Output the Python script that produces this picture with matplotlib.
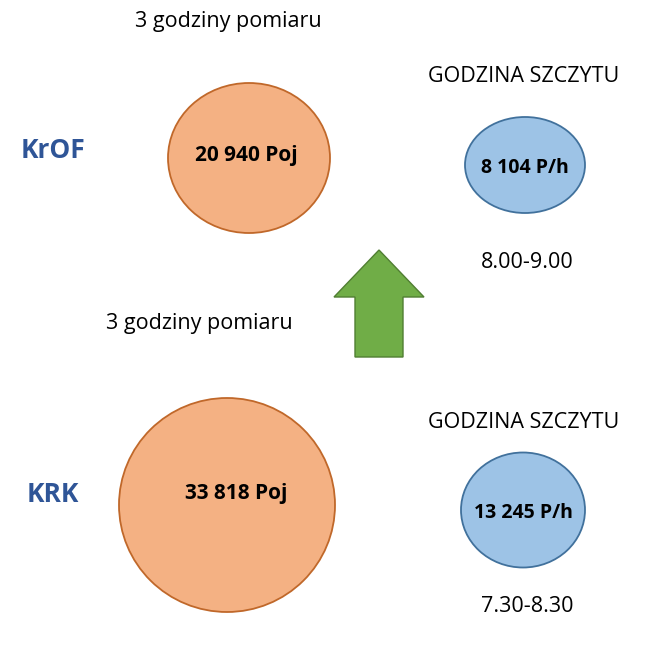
import matplotlib.pyplot as plt
from matplotlib.patches import Ellipse, FancyArrow

plt.rcParams['font.family'] = ['Open Sans', 'DejaVu Sans']

# data
airports = ["KrOF", "KRK"]
totals = ["20 940 Poj", "33 818 Poj"]
peaks = ["8 104 P/h", "13 245 P/h"]
peak_hours = ["8.00-9.00", "7.30-8.30"]
measure_label = "3 godziny pomiaru"
peak_label = "GODZINA SZCZYTU"

orange, orange_edge = "#F4B183", "#C0682A"
blue, blue_edge = "#9DC3E6", "#41719C"
title_blue = "#2F5597"

fig = plt.figure(figsize=(6.58, 6.62), dpi=100)
ax = fig.add_axes([0, 0, 1, 1])
ax.set_xlim(0, 658)
ax.set_ylim(662, 0)
ax.axis("off")

# layout per row: (measure text xy, name y, big circle (cx, cy, w, h), peak title y, small circle, hours y)
rows = [
    ((228, 22), 150, (249, 158, 162, 150), 77, (525, 165, 120, 96), 263),
    ((199, 324), 494, (227, 505, 216, 214), 422, (523, 510, 124, 115), 607),
]

for i, (mxy, ny, big, py, small, hy) in enumerate(rows):
    ax.text(*mxy, measure_label, ha="center", va="center", fontsize=15.5)
    ax.text(53, ny, airports[i], ha="center", va="center", fontsize=19,
            fontweight="bold", color=title_blue)
    ax.add_patch(Ellipse(big[:2], big[2], big[3], facecolor=orange,
                         edgecolor=orange_edge, lw=1.3))
    ax.text(big[0] - 3 + 12 * i, big[1] - 3 - 8 * i, totals[i], ha="center", va="center",
            fontsize=15, fontweight="bold")
    ax.text(524, py, peak_label, ha="center", va="center", fontsize=15.5)
    ax.add_patch(Ellipse(small[:2], small[2], small[3], facecolor=blue,
                         edgecolor=blue_edge, lw=1.3))
    ax.text(small[0], small[1] + 3, peaks[i], ha="center", va="center",
            fontsize=14, fontweight="bold")
    ax.text(527, hy, peak_hours[i], ha="center", va="center", fontsize=15.5)

ax.add_patch(FancyArrow(379, 357, 0, -107, width=48, head_width=90,
                        head_length=47, length_includes_head=True,
                        facecolor="#70AD47", edgecolor="#507E32", lw=1))

fig.savefig("out.png", dpi=100)
